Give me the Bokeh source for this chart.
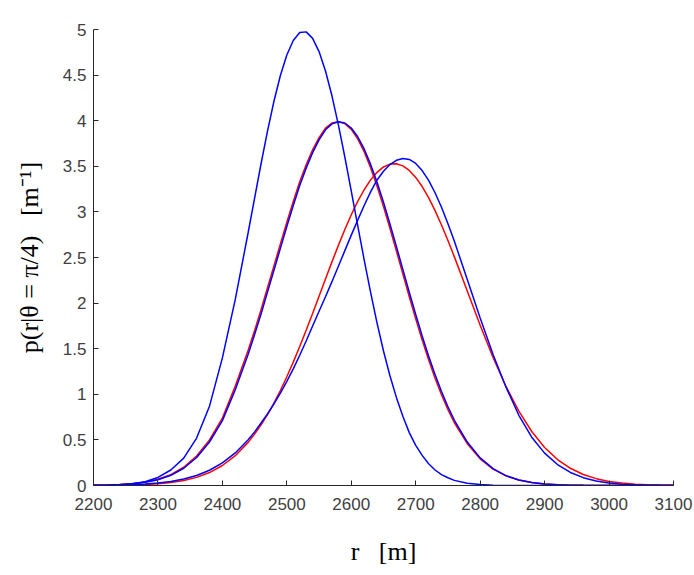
from bokeh.plotting import figure
from bokeh.models import Range1d, FixedTicker, Label
from bokeh.embed import file_html
from bokeh.resources import INLINE

# r values [m]
R = [2200, 2220, 2240, 2260, 2280, 2300, 2320, 2340, 2360, 2380, 2400, 2420,
     2440, 2450, 2460, 2470, 2480, 2490, 2500, 2510, 2520, 2530, 2540, 2550,
     2560, 2570, 2580, 2590, 2600, 2610, 2620, 2630, 2640, 2650, 2660, 2670,
     2680, 2690, 2700, 2710, 2720, 2730, 2740, 2750, 2760,
     2780, 2800, 2820, 2840, 2860, 2880, 2900, 2920, 2940, 2960, 2980,
     3000, 3020, 3040, 3060, 3080, 3100]

# p(r | theta = pi/4) in units of 1e-3 m^-1
blue_1 = [0.001, 0.003, 0.008, 0.018, 0.042, 0.088, 0.170, 0.300, 0.520, 0.870, 1.400, 2.040,
          2.774, 3.152, 3.528, 3.886, 4.213, 4.495, 4.720, 4.880, 4.966, 4.974, 4.903, 4.758,
          4.545, 4.273, 3.954, 3.602, 3.229, 2.850, 2.475, 2.117, 1.781, 1.475, 1.203, 0.966,
          0.760, 0.580, 0.440, 0.330, 0.238, 0.170, 0.120, 0.085, 0.056,
          0.024, 0.010, 0.004, 0.001, 0.000, 0.000, 0.000, 0.000, 0.000, 0.000, 0.000,
          0.000, 0.000, 0.000, 0.000, 0.000, 0.000]

blue_2 = [0.002, 0.004, 0.009, 0.018, 0.035, 0.063, 0.112, 0.189, 0.307, 0.477, 0.711, 1.050,
          1.440, 1.655, 1.880, 2.120, 2.360, 2.600, 2.840, 3.070, 3.290, 3.480, 3.650, 3.790,
          3.900, 3.965, 3.988, 3.975, 3.920, 3.824, 3.690, 3.521, 3.324, 3.105, 2.868, 2.622,
          2.370, 2.119, 1.875, 1.640, 1.420, 1.216, 1.030, 0.863, 0.715,
          0.476, 0.303, 0.185, 0.108, 0.060, 0.032, 0.016, 0.008, 0.004, 0.002, 0.001,
          0.000, 0.000, 0.000, 0.000, 0.000, 0.000]

red_2 = [0.002, 0.004, 0.010, 0.020, 0.037, 0.068, 0.118, 0.200, 0.324, 0.500, 0.740, 1.090,
         1.482, 1.699, 1.927, 2.168, 2.408, 2.648, 2.887, 3.115, 3.331, 3.516, 3.681, 3.815,
         3.918, 3.974, 3.989, 3.968, 3.905, 3.801, 3.660, 3.484, 3.282, 3.059, 2.820, 2.572,
         2.320, 2.069, 1.827, 1.594, 1.378, 1.177, 0.995, 0.831, 0.688,
         0.458, 0.292, 0.180, 0.106, 0.060, 0.033, 0.017, 0.009, 0.004, 0.002, 0.001,
         0.000, 0.000, 0.000, 0.000, 0.000, 0.000]

red_3 = [0.001, 0.001, 0.003, 0.006, 0.010, 0.018, 0.032, 0.054, 0.089, 0.142, 0.219, 0.327,
         0.473, 0.563, 0.664, 0.778, 0.904, 1.042, 1.192, 1.353, 1.524, 1.702, 1.886, 2.075,
         2.264, 2.452, 2.633, 2.807, 2.969, 3.115, 3.243, 3.351, 3.434, 3.493, 3.524, 3.528,
         3.505, 3.455, 3.378, 3.278, 3.156, 3.014, 2.857, 2.686, 2.507,
         2.132, 1.757, 1.403, 1.086, 0.815, 0.592, 0.417, 0.285, 0.189, 0.121, 0.075,
         0.045, 0.027, 0.015, 0.008, 0.004, 0.002]

blue_3 = [0.002, 0.003, 0.005, 0.009, 0.016, 0.027, 0.044, 0.071, 0.110, 0.167, 0.248, 0.357,
          0.502, 0.588, 0.685, 0.785, 0.894, 1.012, 1.141, 1.279, 1.428, 1.584, 1.749, 1.910,
          2.070, 2.235, 2.405, 2.575, 2.745, 2.910, 3.070, 3.220, 3.350, 3.446, 3.519, 3.566,
          3.586, 3.575, 3.531, 3.453, 3.346, 3.210, 3.051, 2.871, 2.677,
          2.260, 1.836, 1.436, 1.081, 0.770, 0.530, 0.355, 0.230, 0.143, 0.086, 0.050,
          0.028, 0.015, 0.008, 0.004, 0.002, 0.001]

X_TICKS = [2200, 2300, 2400, 2500, 2600, 2700, 2800, 2900, 3000, 3100]
Y_TICKS = [0, 0.5, 1, 1.5, 2, 2.5, 3, 3.5, 4, 4.5, 5]
Y_TICK_LABELS = ["0", "0.5", "1", "1.5", "2", "2.5", "3", "3.5", "4", "4.5", "5"]

BLUE = "#0000FF"
RED = "#FF0000"
AXIS_COLOR = "#262626"
TICK_TEXT = "#404040"
GAP = "\u00a0\u00a0\u00a0"

p = figure(width=694, height=575, output_backend="svg", toolbar_location=None,
           x_range=Range1d(2200, 3100), y_range=Range1d(0, 5),
           min_border_left=93, min_border_right=21,
           min_border_top=29, min_border_bottom=90)
p.grid.visible = False
p.outline_line_color = None
p.background_fill_color = "white"
p.border_fill_color = "white"

# red first so that the blue lines sit on top
for ys in (red_2, red_3):
    p.line(R, ys, line_color=RED, line_width=1.5)
for ys in (blue_1, blue_2, blue_3):
    p.line(R, ys, line_color=BLUE, line_width=1.5)

p.xaxis.ticker = FixedTicker(ticks=X_TICKS)
p.xaxis.major_label_overrides = {t: str(t) for t in X_TICKS}
p.yaxis.ticker = FixedTicker(ticks=Y_TICKS)
p.yaxis.major_label_overrides = {t: l for t, l in zip(Y_TICKS, Y_TICK_LABELS)}

for ax in (p.xaxis[0], p.yaxis[0]):
    ax.axis_line_color = AXIS_COLOR
    ax.axis_line_width = 1
    ax.major_tick_line_color = AXIS_COLOR
    ax.major_tick_in = 5
    ax.major_tick_out = 0
    ax.minor_tick_line_color = None
    ax.major_label_text_font = "Liberation Sans"
    ax.major_label_text_font_size = "17px"
    ax.major_label_text_color = TICK_TEXT
    ax.axis_label_text_font = "Liberation Serif"
    ax.axis_label_text_font_size = "26px"
    ax.axis_label_text_font_style = "normal"
    ax.axis_label_text_color = "black"

p.xaxis.major_label_standoff = 12
p.yaxis.major_label_standoff = 7
p.xaxis.axis_label = "r" + GAP + "[m]"
p.yaxis.axis_label = "p(r|θ = π/4)" + GAP + "[m⁻¹]"
p.xaxis.axis_label_standoff = 24
p.yaxis.axis_label_standoff = 16

p.add_layout(Label(x=2200, y=5, x_units="data", y_units="data",
                   text="×10⁻³", x_offset=1, y_offset=3,
                   text_font="Liberation Sans", text_font_size="14px",
                   text_color=TICK_TEXT, text_baseline="bottom"))

open("out.html", "w").write(file_html(p, INLINE))
